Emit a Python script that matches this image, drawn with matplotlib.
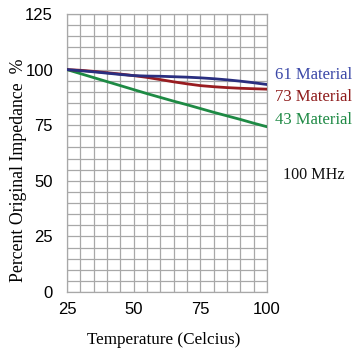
import matplotlib
matplotlib.use("Agg")
import matplotlib.pyplot as plt
import numpy as np

temps = [25, 30, 35, 40, 45, 50, 55, 60, 65, 70, 75, 80, 85, 90, 95, 100]
mat61 = [100, 99.5, 99.0, 98.4, 97.8, 97.3, 97.1, 97.0, 96.8, 96.6, 96.3, 95.9, 95.4, 94.8, 94.1, 93.3]
mat73 = [100, 99.7, 99.2, 98.6, 98.0, 97.3, 96.5, 95.5, 94.5, 93.6, 92.8, 92.3, 91.9, 91.6, 91.4, 91.2]
mat43 = [100, 98.2, 96.4, 94.6, 92.8, 91.0, 89.2, 87.5, 85.8, 84.2, 82.5, 80.8, 79.2, 77.6, 75.9, 74.3]
series_labels = ["61 Material", "73 Material", "43 Material"]
xticks = [25, 50, 75, 100]
yticks = [0, 25, 50, 75, 100, 125]

W, H = 360, 357
fig = plt.figure(figsize=(W / 100, H / 100), dpi=100)
ax = fig.add_axes([67 / W, (H - 292) / H, 200 / W, 278 / H])

line_cols = ["#2a2f80", "#981c20", "#1e8a44"]
text_cols = ["#3b48a8", "#8e1b1b", "#1f8a45"]
for ys, c in zip([mat43, mat73, mat61], [line_cols[2], line_cols[1], line_cols[0]]):
    ax.plot(temps, ys, color=c, lw=2.0, solid_capstyle="round", zorder=3)

ax.set_xlim(25, 100)
ax.set_ylim(0, 125)
ax.set_xticks(np.arange(25, 101, 5), minor=True)
ax.set_yticks(np.arange(0, 126, 5), minor=True)
ax.set_xticks(xticks)
ax.set_yticks(yticks)
ax.grid(True, which="both", color="#a8a8a8", lw=0.9)
ax.set_axisbelow(True)
for s in ax.spines.values():
    s.set_color("#a8a8a8")
    s.set_linewidth(0.9)
ax.tick_params(which="both", length=0)
ax.tick_params(axis="x", pad=7)
ax.tick_params(axis="y", pad=10)
for lab in ax.get_xticklabels() + ax.get_yticklabels():
    lab.set_fontfamily("Liberation Sans")
    lab.set_fontsize(12)

fig.text(164 / W, 1 - 340 / H, "Temperature (Celcius)", family="Liberation Serif",
         fontsize=12.3, ha="center", va="center")
fig.text(19 / W, 1 - 170 / H, "Percent Original Impedance  %", family="Liberation Serif",
         fontsize=12.8, ha="center", va="center", rotation=90)

label_y = [75, 97, 120]
for lbl, c, yp in zip(series_labels, text_cols, label_y):
    fig.text(275 / W, 1 - yp / H, lbl, color=c, family="Liberation Serif",
             fontsize=12, va="center", ha="left")
fig.text(283 / W, 1 - 175 / H, "100 MHz", color="#111111", family="Liberation Serif",
         fontsize=11.6, va="center", ha="left")

fig.savefig("out.png", dpi=100, facecolor="white")
